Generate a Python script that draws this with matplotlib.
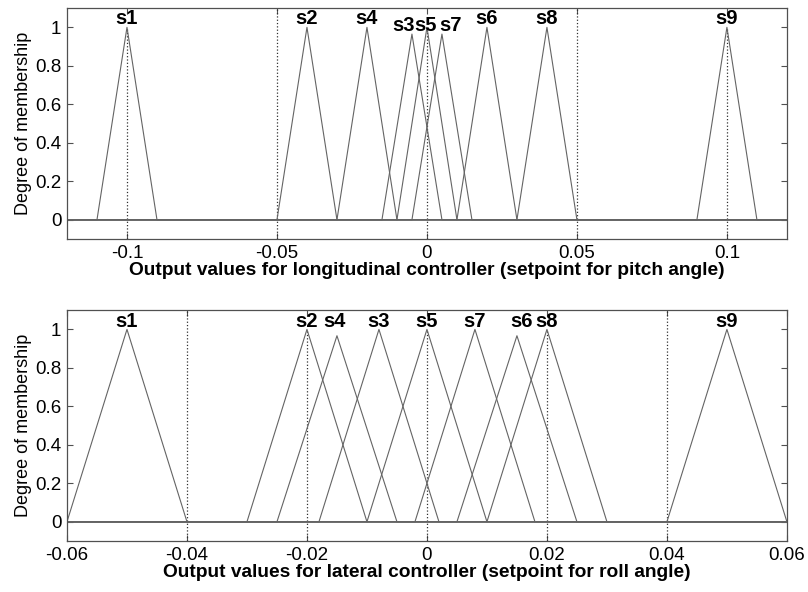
import matplotlib
matplotlib.use("Agg")
import matplotlib.pyplot as plt
import numpy as np

plt.rcParams['font.family'] = ['Liberation Sans', 'DejaVu Sans']

# ===== Membership functions (triangles: left foot, peak, right foot, peak height) =====
pitch_names = ['s1', 's2', 's4', 's3', 's5', 's7', 's6', 's8', 's9']
pitch_left = [-0.11, -0.05, -0.03, -0.015, -0.01, -0.005, 0.01, 0.03, 0.09]
pitch_peak = [-0.10, -0.04, -0.02, -0.005, 0.0, 0.005, 0.02, 0.04, 0.10]
pitch_right = [-0.09, -0.03, -0.01, 0.005, 0.01, 0.015, 0.03, 0.05, 0.11]
pitch_height = [1.0, 1.0, 1.0, 0.965, 1.0, 0.965, 1.0, 1.0, 1.0]

roll_names = ['s1', 's2', 's4', 's3', 's5', 's7', 's6', 's8', 's9']
roll_left = [-0.06, -0.03, -0.025, -0.018, -0.01, -0.002, 0.005, 0.01, 0.04]
roll_peak = [-0.05, -0.02, -0.015, -0.008, 0.0, 0.008, 0.015, 0.02, 0.05]
roll_right = [-0.04, -0.01, -0.005, 0.002, 0.01, 0.018, 0.025, 0.03, 0.06]
roll_height = [1.0, 1.0, 0.967, 1.0, 1.0, 1.0, 0.967, 1.0, 1.0]

# ===== Axis ticks and reference lines =====
pitch_ticks = [-0.1, -0.05, 0, 0.05, 0.1]
pitch_ticklabels = ['-0.1', '-0.05', '0', '0.05', '0.1']
roll_ticks = [-0.06, -0.04, -0.02, 0, 0.02, 0.04, 0.06]
roll_ticklabels = ['-0.06', '-0.04', '-0.02', '0', '0.02', '0.04', '0.06']
y_ticks = [0, 0.2, 0.4, 0.6, 0.8, 1]
y_ticklabels = ['0', '0.2', '0.4', '0.6', '0.8', '1']

pitch_full_lines = [-0.05, 0.05]
pitch_peak_lines = [-0.1, 0, 0.1]
roll_full_lines = [-0.04, 0.04]
roll_peak_lines = [-0.02, 0, 0.02]

# label nudges (points) where labels would overlap
pitch_nudge = {'s3': (-6, -4.5), 's5': (-0.7, -4.5), 's7': (6.5, -4.5)}
roll_nudge = {'s4': (-1.5, 0), 's6': (3, 0)}

LINE = '#646464'
FRAME = '#505050'


def draw_panel(ax, names, left, peak, right, height, xlim, ticks, ticklabels,
               full_lines, peak_lines, nudge, xlabel):
    x0, x1 = xlim
    ylo, yhi = -0.1, 1.1
    # dotted reference lines
    for xv in full_lines:
        ax.plot([xv, xv], [ylo, yhi], color='#303030', lw=0.9, ls=':')
    for xv in peak_lines:
        ax.plot([xv, xv], [ylo, 1.0], color='#303030', lw=0.9, ls=':')
    # triangles drawn over the whole range (zero outside)
    for n, a, b, c, h in zip(names, left, peak, right, height):
        xs = [x0, a, b, c, x1]
        ys = [0, 0, h, 0, 0]
        ax.plot(xs, ys, color=LINE, lw=0.8)
        dx, dy = nudge.get(n, (0, 0))
        ax.annotate(n, (b, 1.015), xytext=(dx, dy), textcoords='offset points',
                    ha='center', va='baseline', fontsize=14.5, fontweight='bold')
    ax.set_xlim(x0, x1)
    ax.set_ylim(ylo, yhi)
    ax.set_xticks(ticks)
    ax.set_xticklabels(ticklabels)
    ax.set_yticks(y_ticks)
    ax.set_yticklabels(y_ticklabels)
    ax.tick_params(direction='in', length=4, width=0.8, color=FRAME,
                   labelsize=13.5, top=True, right=True, pad=4)
    for s in ax.spines.values():
        s.set_color(FRAME)
        s.set_linewidth(0.9)
    ax.set_xlabel(xlabel, fontsize=13.8, fontweight='bold', labelpad=0)
    ax.set_ylabel('Degree of membership', fontsize=13, labelpad=2)


fig = plt.figure(figsize=(8.08, 5.92), dpi=100)
ax1 = fig.add_axes([0.0829, 0.5963, 0.891, 0.390])
ax2 = fig.add_axes([0.0829, 0.0861, 0.891, 0.390])

draw_panel(ax1, pitch_names, pitch_left, pitch_peak, pitch_right, pitch_height,
           (-0.12, 0.12), pitch_ticks, pitch_ticklabels,
           pitch_full_lines, pitch_peak_lines, pitch_nudge,
           'Output values for longitudinal controller (setpoint for pitch angle)')
draw_panel(ax2, roll_names, roll_left, roll_peak, roll_right, roll_height,
           (-0.06, 0.06), roll_ticks, roll_ticklabels,
           roll_full_lines, roll_peak_lines, roll_nudge,
           'Output values for lateral controller (setpoint for roll angle)')

fig.savefig('out.png', dpi=100)
